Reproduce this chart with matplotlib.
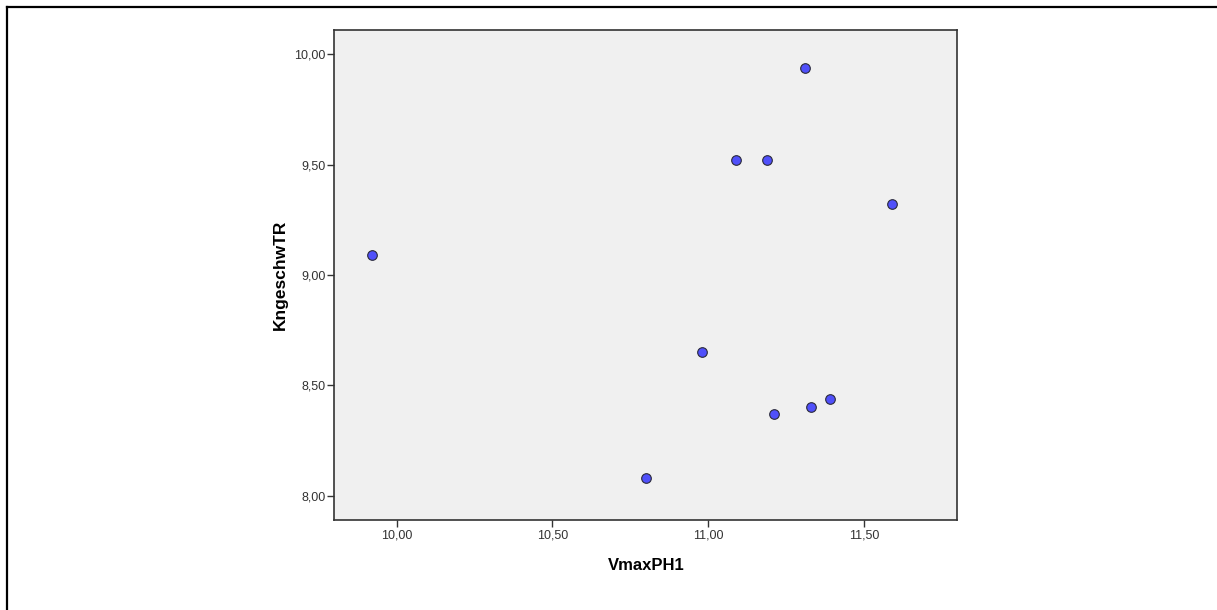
import matplotlib
matplotlib.use("Agg")
import matplotlib.pyplot as plt
from matplotlib.lines import Line2D
from matplotlib.ticker import FuncFormatter

# data
vmax_ph1 = [9.92, 10.80, 10.98, 11.09, 11.19, 11.21, 11.31, 11.33, 11.39, 11.59]
kngeschw_tr = [9.09, 8.08, 8.65, 9.52, 9.52, 8.37, 9.94, 8.40, 8.44, 9.32]

x_ticks = [10.0, 10.5, 11.0, 11.5]
y_ticks = [8.0, 8.5, 9.0, 9.5, 10.0]


def comma_fmt(v, pos):
    return f"{v:.2f}".replace(".", ",")


def main():
    plt.rcParams["font.family"] = ["Liberation Sans", "DejaVu Sans"]

    fig = plt.figure(figsize=(12.17, 6.10), dpi=100)
    ax = fig.add_axes([0.2747, 0.1475, 0.5119, 0.8033])
    ax.set_facecolor("#f0f0f0")

    ax.scatter(vmax_ph1, kngeschw_tr, s=48, color="#5050fa",
               edgecolors="#2a2a3a", linewidths=0.8, zorder=3)

    ax.set_xlim(9.80, 11.80)
    ax.set_ylim(7.89, 10.11)
    ax.set_xticks(x_ticks)
    ax.set_yticks(y_ticks)
    ax.xaxis.set_major_formatter(FuncFormatter(comma_fmt))
    ax.yaxis.set_major_formatter(FuncFormatter(comma_fmt))
    ax.tick_params(direction="out", length=5, width=1, colors="#333333",
                   labelsize=9, pad=1.5)

    for side in ax.spines.values():
        side.set_color("#333333")
        side.set_linewidth(1.2)

    ax.set_xlabel("VmaxPH1", fontsize=12, fontweight="bold", labelpad=12)
    ax.set_ylabel("KngeschwTR", fontsize=12.5, fontweight="bold", labelpad=4)

    # frame lines along the top and left edge of the picture
    fx = 6.7 / 1217
    fy = 1 - 6.7 / 610
    fig.add_artist(Line2D([fx, fx], [0, fy], color="black", linewidth=1.6))
    fig.add_artist(Line2D([fx, 1], [fy, fy], color="black", linewidth=1.6))

    fig.savefig("out.png", dpi=100)
    plt.close(fig)


if __name__ == "__main__":
    main()
